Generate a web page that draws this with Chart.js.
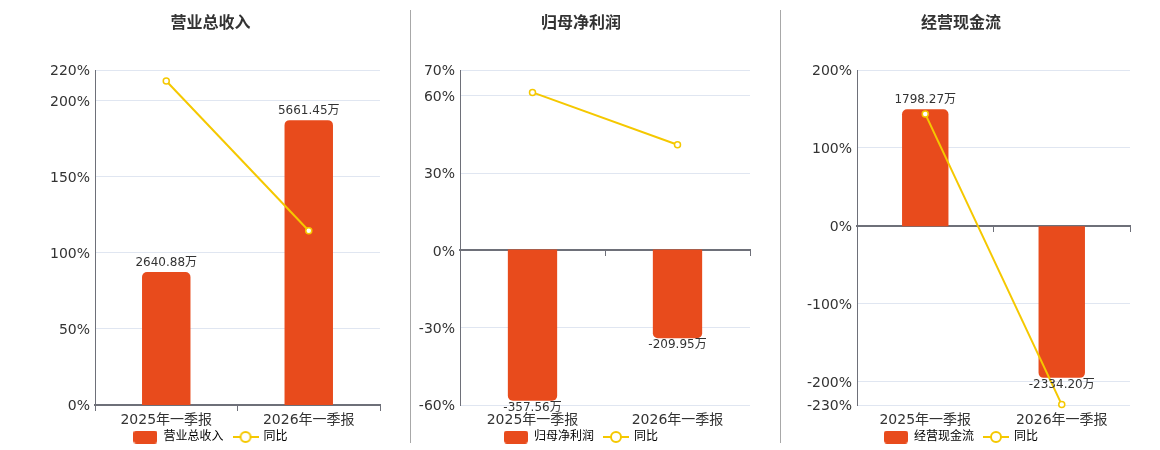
<!DOCTYPE html>
<html>
<head>
<meta charset="utf-8">
<script src="https://cdn.jsdelivr.net/npm/chart.js@4.4.1/dist/chart.umd.min.js"></script>
<style>
  html, body { margin: 0; padding: 0; background: #fff; overflow: hidden; }
  body { width: 1160px; height: 450px; position: relative; }
  .panel { position: absolute; top: 0; height: 453px; }
  .divider { position: absolute; top: 10px; width: 1px; height: 433px; background: #a8a8a8; }
</style>
</head>
<body>
<div class="panel" style="left:20px;width:381px"><canvas id="revenue"></canvas></div>
<div class="divider" style="left:410px"></div>
<div class="panel" style="left:411px;width:340px"><canvas id="netProfit"></canvas></div>
<div class="divider" style="left:780px"></div>
<div class="panel" style="left:790px;width:342px"><canvas id="cashFlow"></canvas></div>
<script>
// 数据（单位：万元 / %）
const categories = ["2025年一季报", "2026年一季报"];
const yoyLabel = "同比";

const revenueTitle = "营业总收入";
const revenueValues = [2640.88, 5661.45];
const revenueYoY = [212.8, 114.4];
const revenueTicks = [0, 50, 100, 150, 200, 220];
const revenueBarRange = [0, 6658];

const netProfitTitle = "归母净利润";
const netProfitValues = [-357.56, -209.95];
const netProfitYoY = [61.3, 41.0];
const netProfitTicks = [-60, -30, 0, 30, 60, 70];
const netProfitBarRange = [-367.7, 424.2];

const cashFlowTitle = "经营现金流";
const cashFlowValues = [1798.27, -2334.2];
const cashFlowYoY = [143.6, -229.5];
const cashFlowTicks = [-230, -200, -100, 0, 100, 200];
const cashFlowBarRange = [-2752, 2402];

const BAR_COLOR = "#E84B1C";
const LINE_COLOR = "#F5C800";
const AXIS_COLOR = "#6E7079";

Chart.defaults.font.family = "'DejaVu Sans', 'Noto Sans CJK SC', sans-serif";
Chart.defaults.color = "#333";

// 图例小图标
function barSwatch() {
  const c = document.createElement("canvas");
  c.width = 24; c.height = 13;
  const ctx = c.getContext("2d");
  ctx.fillStyle = BAR_COLOR;
  ctx.beginPath();
  ctx.roundRect(0, 0, 24, 13, 3);
  ctx.fill();
  return c;
}
function lineSwatch() {
  const c = document.createElement("canvas");
  c.width = 26; c.height = 14;
  const ctx = c.getContext("2d");
  ctx.strokeStyle = LINE_COLOR;
  ctx.lineWidth = 2;
  ctx.beginPath();
  ctx.moveTo(0, 7); ctx.lineTo(26, 7);
  ctx.stroke();
  ctx.beginPath();
  ctx.arc(13, 7, 5, 0, Math.PI * 2);
  ctx.fillStyle = "#fff";
  ctx.fill();
  ctx.stroke();
  return c;
}

// 柱子数值标签
const barValueLabels = {
  id: "barValueLabels",
  afterDatasetsDraw(chart) {
    const ctx = chart.ctx;
    const meta = chart.getDatasetMeta(0);
    const data = chart.data.datasets[0].data;
    ctx.save();
    ctx.font = "12px 'DejaVu Sans', 'Noto Sans CJK SC', sans-serif";
    ctx.fillStyle = "#333";
    ctx.textAlign = "center";
    ctx.textBaseline = "middle";
    meta.data.forEach((bar, i) => {
      const v = data[i];
      const y = v >= 0 ? bar.y - 9 : bar.y + 7;
      ctx.fillText(v.toFixed(2) + "万", bar.x, y);
    });
    ctx.restore();
  }
};

function makePanel(id, title, values, yoy, ticks, barRange, axisWidth, padRight) {
  new Chart(document.getElementById(id), {
    type: "bar",
    data: {
      labels: categories,
      datasets: [
        {
          type: "bar",
          label: title,
          data: values,
          xAxisID: "x",
          yAxisID: "y1",
          backgroundColor: BAR_COLOR,
          borderRadius: 5,
          barPercentage: 0.34,
          categoryPercentage: 1,
          order: 1
        },
        {
          type: "line",
          label: yoyLabel,
          data: yoy,
          xAxisID: "x",
          yAxisID: "y",
          borderColor: LINE_COLOR,
          borderWidth: 2,
          pointRadius: 3,
          pointBorderWidth: 1.5,
          pointBorderColor: LINE_COLOR,
          pointBackgroundColor: "#fff",
          tension: 0,
          clip: false,
          order: 0
        }
      ]
    },
    options: {
      responsive: true,
      maintainAspectRatio: false,
      animation: false,
      events: [],
      layout: { padding: 0, autoPadding: false },
      plugins: {
        title: {
          display: true,
          text: title,
          color: "#333",
          font: { size: 16, weight: "bold" },
          padding: { top: 14, bottom: 36.8 }
        },
        legend: {
          position: "bottom",
          labels: {
            usePointStyle: true,
            pointStyleWidth: 24,
            padding: 10,
            color: "#555",
            font: { size: 12 },
            generateLabels: () => [
              { text: title, pointStyle: barSwatch(), fillStyle: BAR_COLOR, strokeStyle: "transparent", lineWidth: 0, hidden: false, datasetIndex: 0 },
              { text: yoyLabel, pointStyle: lineSwatch(), fillStyle: "#fff", strokeStyle: "transparent", lineWidth: 0, hidden: false, datasetIndex: 1 }
            ]
          }
        },
        tooltip: { enabled: false }
      },
      scales: {
        x: {
          type: "category",
          grid: { display: false, drawTicks: false },
          border: { display: false },
          ticks: { color: "#333", font: { size: 14 }, padding: 7 },
          afterFit: s => {
            s.height = 16;
            s.paddingLeft = 0;
            s.paddingRight = 0;
            s._computeLabelArea = () => undefined;
          }
        },
        x0: {
          type: "category",
          axis: "x",
          position: { y: 0 },
          offset: true,
          grid: { display: true, drawOnChartArea: false, drawTicks: true, tickLength: 5, color: AXIS_COLOR, offset: true },
          border: { display: true, color: AXIS_COLOR, width: 2 },
          ticks: { display: false }
        },
        y: {
          position: "left",
          min: ticks[0],
          max: ticks[ticks.length - 1],
          afterBuildTicks: s => { s.ticks = ticks.map(v => ({ value: v })); },
          afterFit: s => { s.width = axisWidth; },
          ticks: { callback: v => v + "%", padding: 5, labelOffset: 1.5, color: "#333", font: { size: 14 } },
          grid: { color: "#E0E6F1", drawTicks: false },
          border: { display: true, color: AXIS_COLOR, width: 1 }
        },
        y1: {
          position: "right",
          min: barRange[0],
          max: barRange[1],
          ticks: { display: false },
          grid: { display: false, drawTicks: false },
          border: { display: false },
          afterFit: s => { s.width = padRight; }
        }
      }
    },
    plugins: [barValueLabels]
  });
}

makePanel("revenue", revenueTitle, revenueValues, revenueYoY, revenueTicks, revenueBarRange, 75, 21);
makePanel("netProfit", netProfitTitle, netProfitValues, netProfitYoY, netProfitTicks, netProfitBarRange, 49, 1);
makePanel("cashFlow", cashFlowTitle, cashFlowValues, cashFlowYoY, cashFlowTicks, cashFlowBarRange, 67, 2);
</script>
</body>
</html>
